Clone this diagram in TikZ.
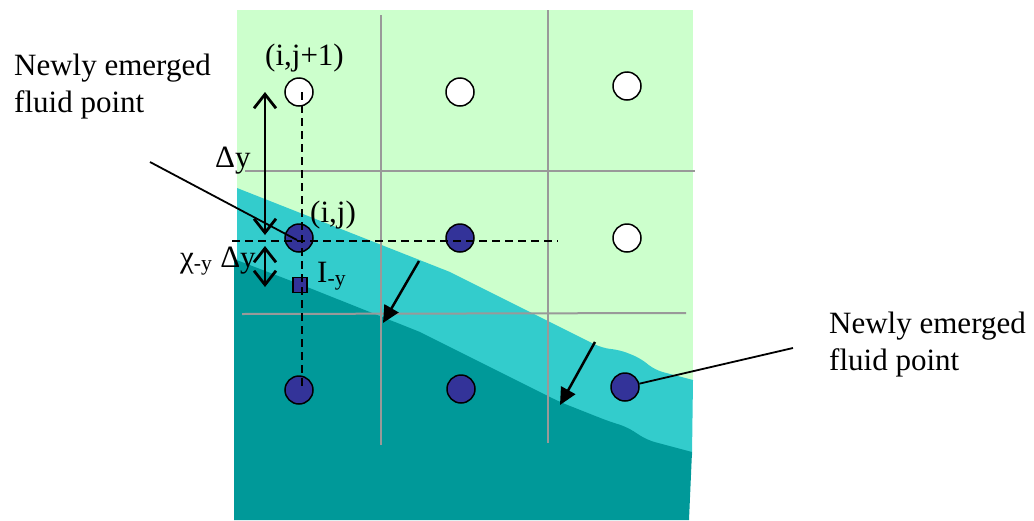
\documentclass[tikz,border=0pt]{standalone}
\usepackage{fontspec}
\setmainfont{Liberation Serif}
\usetikzlibrary{arrows.meta}
\definecolor{fluidGreen}{HTML}{CCFFCC}
\definecolor{emergeCyan}{HTML}{33CCCC}
\definecolor{solidTeal}{HTML}{009999}
\definecolor{pointBlue}{HTML}{333399}
\definecolor{gridGray}{HTML}{999999}
\tikzset{
  grid line/.style={draw=gridGray,line width=2pt},
  fluid point/.style={circle,draw=black,line width=1.5pt,fill=pointBlue,minimum size=28pt,inner sep=0pt},
  empty point/.style={circle,draw=black,line width=1.5pt,fill=white,minimum size=28pt,inner sep=0pt},
  probe point/.style={rectangle,draw=black,line width=1.2pt,fill=pointBlue,minimum width=14pt,minimum height=15pt,inner sep=0pt},
  guide line/.style={draw=black,line width=2.5pt,dash pattern=on 8pt off 5pt},
  span arrow/.style={{Straight Barb[length=14pt,width=22pt]}-{Straight Barb[length=14pt,width=22pt]},line width=2.8pt,draw=black},
  normal arrow/.style={-{Triangle[length=17pt,width=16pt]},line width=2.5pt,draw=black},
  leader line/.style={draw=black,line width=1.8pt},
  label text/.style={anchor=base west,inner sep=0pt,align=left}
}

\begin{document}
\begin{tikzpicture}[x=1pt,y=-1pt,font=\fontsize{31}{37}\selectfont]
  \useasboundingbox (0,0) rectangle (1034,520);
  \fill[fluidGreen] (237,10) -- (693,10) -- (693,385) -- (237,385) -- cycle;
  \fill[emergeCyan] (237,188) -- (450,272) [rounded corners=8pt] -- (560,327) -- (602,348) -- (620,350) -- (640,358) -- (655,370) [sharp corners] -- (693,380) -- (692,455) -- (237,455) -- cycle;
  \fill[solidTeal] (234,259) -- (307,287) -- (420,332) [rounded corners=8pt] -- (560,402) -- (608,421) -- (627,427) -- (647,440) [sharp corners] -- (692,452) -- (689,520) -- (234,520) -- cycle;
  \draw[grid line] (381,15) -- (381,445);
  \draw[grid line] (548,10) -- (548,443);
  \draw[grid line] (245,171) -- (695,171);
  \draw[grid line] (242,314) -- (686,313);

  \node[empty point] (ijup) at (299,92) {};
  \node[empty point] (midup) at (460,92) {};
  \node[empty point] (rightup) at (627,86) {};
  \node[fluid point] (ij) at (299,238) {};
  \node[fluid point] (midrow) at (460,238) {};
  \node[empty point] (rightrow) at (627,238) {};
  \node[fluid point] (ijdown) at (299,390) {};
  \node[fluid point] (middown) at (461,389) {};
  \node[fluid point] (rightdown) at (625,387) {};
  \node[probe point] (iy) at (300,285) {};

  \coordinate (dashW) at (232,241);
  \coordinate (dashE) at (558,241);
  \draw[guide line] ([xshift=3pt]ijup.center) -- ([xshift=3pt]ijdown.center);
  \draw[guide line] (dashW) -- (dashE);

  \coordinate (dyTop) at (265,92);
  \coordinate (dyBot) at (265,235);
  \coordinate (chiTop) at (265,246);
  \coordinate (chiBot) at (265,287);
  \draw[span arrow] (dyTop) -- (dyBot);
  \draw[span arrow] (chiTop) -- (chiBot);

  \coordinate (moveA) at (419,261);
  \coordinate (hitA) at (383,323);
  \coordinate (moveB) at (595,342);
  \coordinate (hitB) at (560,405);
  \draw[normal arrow] (moveA) -- (hitA);
  \draw[normal arrow] (moveB) -- (hitB);

  \node[label text] (newLeft) at (14,112) {Newly emerged\\fluid point};
  \node[label text] (newRight) at (829,370) {Newly emerged\\fluid point};
  \coordinate (leadL) at (150,162);
  \coordinate (leadR) at (793,348);
  \draw[leader line] (leadL) -- ([shift={(-2pt,-2pt)}]ij.center);
  \draw[leader line] (rightdown) -- (leadR);

  \node[label text] (ijupLabel) at (265,65) {(i,j+1)};
  \node[label text] (ijLabel) at (310,222) {(i,j)};
  \node[label text] (dyLabel) at (215,167) {Δy};
  \node[label text] (chiLabel) at (180,267) {χ\textsubscript{-y} Δy};
  \node[label text] (iyLabel) at (317,282) {I\textsubscript{-y}};
\end{tikzpicture}
\end{document}
